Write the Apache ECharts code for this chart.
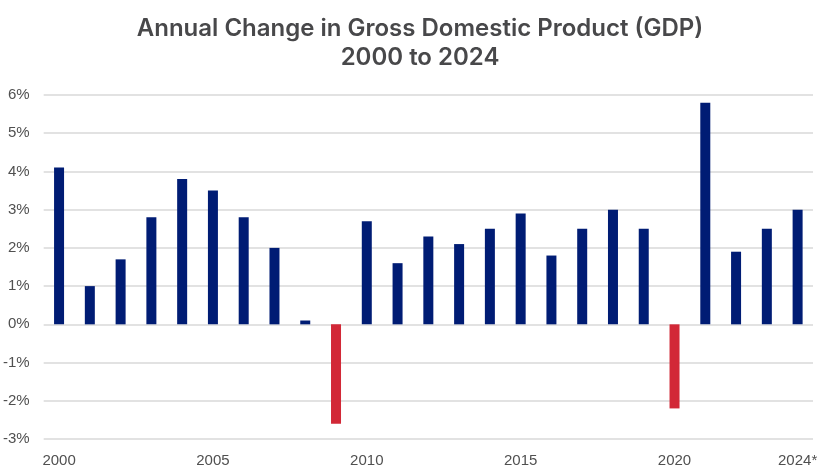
<!DOCTYPE html>
<html>
<head>
<meta charset="utf-8">
<script src="https://cdn.jsdelivr.net/npm/echarts@6/dist/echarts.min.js"></script>
<style>
html,body{margin:0;padding:0;background:#fff;}
#chart{width:840px;height:472px;}
</style>
</head>
<body>
<div id="chart"></div>
<script>
var years = ['2000','2001','2002','2003','2004','2005','2006','2007','2008','2009','2010','2011','2012','2013','2014','2015','2016','2017','2018','2019','2020','2021','2022','2023','2024'];
var gdpChange = [4.1, 1.0, 1.7, 2.8, 3.8, 3.5, 2.8, 2.0, 0.1, -2.6, 2.7, 1.6, 2.3, 2.1, 2.5, 2.9, 1.8, 2.5, 3.0, 2.5, -2.2, 5.8, 1.9, 2.5, 3.0];
var xTickLabels = {'2000':'2000','2005':'2005','2010':'2010','2015':'2015','2020':'2020','2024':'2024*'};
var titleLines = ['Annual Change in Gross Domestic Product (GDP)', '2000 to 2024'];

var chart = echarts.init(document.getElementById('chart'), null, {renderer:'canvas'});
chart.setOption({
  animation: false,
  backgroundColor: '#ffffff',
  title: {
    text: titleLines.join('\n'),
    left: 'center',
    top: 9,
    textStyle: {
      fontFamily: 'Inter',
      fontWeight: 600,
      fontSize: 24,
      lineHeight: 29,
      color: '#48484a'
    }
  },
  grid: { left: 42, right: 27, top: 95, bottom: 33, containLabel: false },
  xAxis: {
    type: 'category',
    data: years,
    boundaryGap: true,
    axisLine: { show: false },
    axisTick: { show: false },
    axisLabel: {
      interval: 0,
      margin: 14,
      fontFamily: 'Liberation Sans',
      fontSize: 15,
      color: '#505050',
      formatter: function (v) { return xTickLabels[v] || ''; }
    }
  },
  yAxis: {
    type: 'value',
    min: -3,
    max: 6,
    interval: 1,
    axisLine: { show: false },
    axisTick: { show: false },
    splitLine: { lineStyle: { color: '#d9d9d9', width: 1.5 } },
    axisLabel: {
      margin: 14,
      fontFamily: 'Liberation Sans',
      fontSize: 15,
      color: '#505050',
      formatter: function (v) { return v + '%'; }
    }
  },
  series: [{
    type: 'bar',
    data: gdpChange,
    barWidth: 10,
    itemStyle: {
      color: function (p) { return p.value < 0 ? '#d22837' : '#001c74'; }
    }
  }]
});
</script>
</body>
</html>
